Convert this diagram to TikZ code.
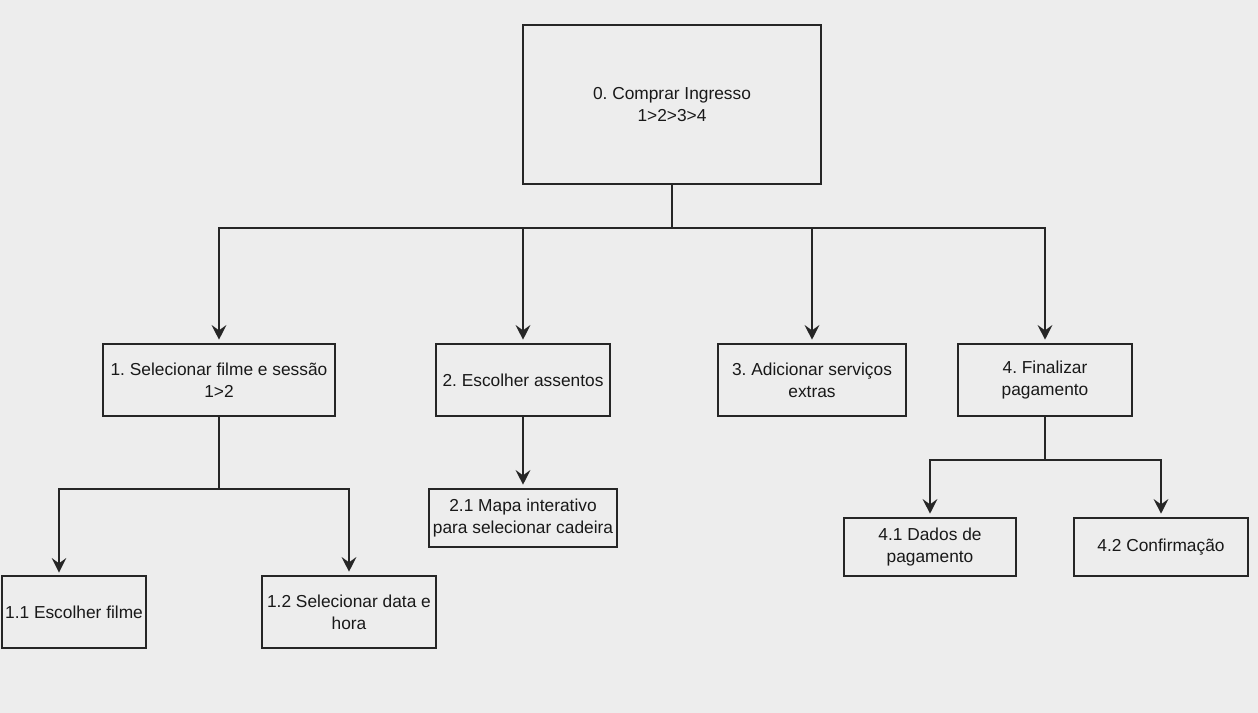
\documentclass[tikz,border=0pt]{standalone}
\usepackage{fontspec}
\setmainfont{Liberation Sans}
\usetikzlibrary{arrows.meta, positioning}
\definecolor{fundo}{HTML}{EDEDED}
\definecolor{linha}{HTML}{262626}

\begin{document}
\frenchspacing
\begin{tikzpicture}[
    x=0.75pt, y=-0.75pt,
    ->,
    >={Stealth[length=11pt, width=11pt, inset=4pt]},
    shorten >=2.5pt,
    line width=1.4pt,
    draw=linha,
    font=\fontsize{13}{16.4}\selectfont,
    tarefa/.style={rectangle, draw=linha, line width=1.4pt, align=center,
      inner sep=0pt, minimum height=54pt, text=black!90},
    folha/.style={tarefa, minimum height=43.5pt},
    haste/.style={-, shorten >=0pt}
  ]
  \fill[fundo] (0,0) rectangle (1258,713);
  \useasboundingbox (0,0) rectangle (1258,713);

  % --- RAIZ ---
  \node[tarefa, minimum width=223.5pt, minimum height=119.25pt] (comprar) at (672,104.5)
    {0. Comprar Ingresso\\1>2>3>4};

  % --- NIVEL 1 ---
  \node[tarefa, minimum width=174pt] (filme) at (219,380) {1. Selecionar filme e sessão\\1>2};
  \node[tarefa, minimum width=130.5pt] (assentos) at (523,380) {2. Escolher assentos};
  \node[tarefa, minimum width=141pt] (extras) at (812,380) {3. Adicionar serviços\\extras};
  \node[tarefa, minimum width=130.5pt] (pagar) at (1045,380) {4. Finalizar\\pagamento};

  % --- NIVEL 2 ---
  \node[tarefa, minimum width=108pt] (escolher) at (74,612) {1.1 Escolher filme};
  \node[tarefa, minimum width=130.5pt] (datahora) at (349,612) {1.2 Selecionar data e\\hora};
  \node[folha, minimum width=141pt] (mapa) at (523,518) {2.1 Mapa interativo\\para selecionar cadeira};
  \node[folha, minimum width=129pt] (dados) at (930,547) {4.1 Dados de\\pagamento};
  \node[folha, minimum width=130.5pt] (confirma) at (1161,547) {4.2 Confirmação};

  % --- BARRAMENTOS ---
  \coordinate (bus0) at (672,228);
  \coordinate (bus1) at (219,489);
  \coordinate (bus4) at (1045,460);
  \coordinate (alvo11) at (59,576);

  \draw[haste] (comprar.south) -- (bus0);
  \draw[haste] (filme.south) -- (bus1);
  \draw[haste] (pagar.south) -- (bus4);

  % --- LIGACOES ---
  \draw (bus0) -| (filme.north);
  \draw (bus0) -| (assentos.north);
  \draw (bus0) -| (extras.north);
  \draw (bus0) -| (pagar.north);

  \draw (bus1) -| (alvo11);
  \draw (bus1) -| (datahora.north);

  \draw (assentos.south) -- (mapa.north);

  \draw (bus4) -| (dados.north);
  \draw (bus4) -| (confirma.north);

\end{tikzpicture}
\end{document}
